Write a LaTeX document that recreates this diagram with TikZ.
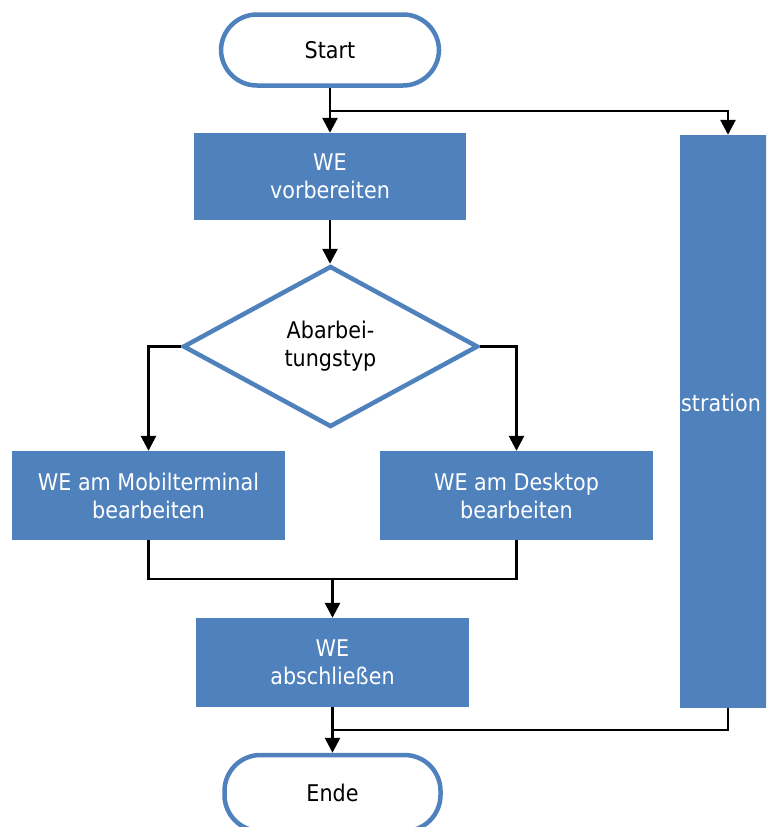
\documentclass[tikz,border=0pt]{standalone}
\usepackage{fontspec}
\setmainfont{DejaVu Sans Condensed}
\usetikzlibrary{shapes.geometric,arrows.meta}
\definecolor{flowblue}{HTML}{4F81BD}
\begin{document}
\begin{tikzpicture}[x=1pt,y=-1pt,
  every node/.style={font=\fontsize{23}{28}\selectfont, align=center, inner sep=0pt},
  terminal/.style={draw=flowblue, line width=4.5pt, fill=white, rounded corners=36pt,
    minimum width=218pt, minimum height=71pt},
  process/.style={fill=flowblue, text=white, minimum width=273pt, minimum height=89pt},
  decision/.style={diamond, draw=flowblue, line width=4.5pt, fill=white,
    minimum width=295pt, minimum height=161pt},
  conn/.style={line width=2.7pt, black},
  arrow/.style={conn, -{Triangle[width=15pt,length=15pt]}}]
\useasboundingbox (0,0) rectangle (766,827);
\clip (0,0) rectangle (766,827);
\fill[white] (0,0) rectangle (766,827);

% nodes
\node[terminal] (start) at (330,50) {Start};
\node[process, minimum width=272pt, minimum height=87pt] (prep) at (330,176.5) {WE\\vorbereiten};
\node[decision] (type) at (330.5,346.5) {Abarbei-\\tungstyp};
\node[process] (mobile) at (148.5,495.5) {WE am Mobilterminal\\bearbeiten};
\node[process] (desk) at (516.5,495.5) {WE am Desktop\\bearbeiten};
\node[process] (close) at (332.5,662.5) {WE\\abschließen};
\node[process, minimum width=96pt, minimum height=573pt] (admin) at (728,421.5) {};
\node[anchor=west, text=white] (admintext) at (681,403) {stration};
\node[terminal, minimum width=216pt, minimum height=76pt] (end) at (332.5,793) {Ende};

% junctions
\coordinate (split) at (330,111);
\coordinate (merge) at (332.5,579);
\coordinate (gather) at (332.5,730);

% connectors
\draw[arrow] (start.south) -- (prep.north);
\draw[arrow] (split) -| (admin.north);
\draw[arrow] (prep.south) -- (prep.south |- type.north);
\draw[arrow] (type.west) -| (mobile.north);
\draw[arrow] (type.east) -| (desk.north);
\draw[conn] (mobile.south) |- (merge) -| (desk.south);
\draw[arrow] (merge) -- (close.north);
\draw[arrow] (close.south) -- (end.north);
\draw[conn] (admin.south) |- (gather);
\end{tikzpicture}
\end{document}
